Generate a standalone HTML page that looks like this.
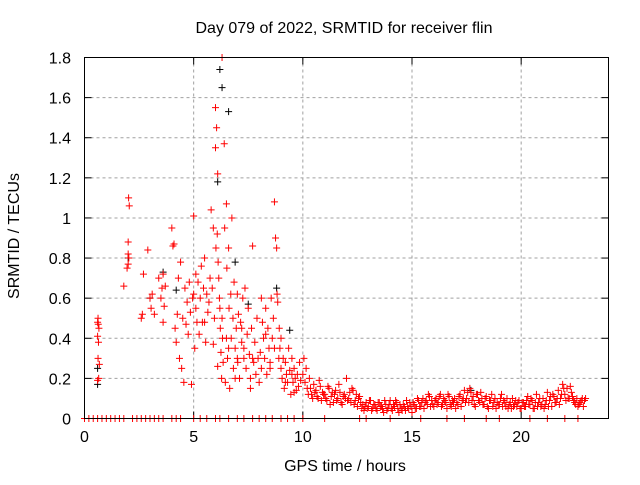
<!DOCTYPE html>
<html><head><meta charset="utf-8"><style>
body{margin:0;background:#fff}
text{font-family:"Liberation Sans",sans-serif;font-size:16px;fill:#000}
</style></head><body>
<svg id="chart" width="640" height="480">
<text x="344" y="33" text-anchor="middle">Day 079 of 2022, SRMTID for receiver flin</text>
<text x="345" y="471" text-anchor="middle">GPS time / hours</text>
<text transform="translate(19,236) rotate(-90)" text-anchor="middle">SRMTID / TECUs</text>
<g id="grid"></g><g id="ticks"></g><g id="marks"></g>
<rect x="84.5" y="57.5" width="524" height="361" fill="none" stroke="#000"/>
</svg>
<script>
const xTicks=[0,5,10,15,20];
const yTicks=[0,0.2,0.4,0.6,0.8,1,1.2,1.4,1.6,1.8];
const yLabels=["0","0.2","0.4","0.6","0.8","1","1.2","1.4","1.6","1.8"];
const mornX=[0.6,0.62,0.64,0.66,0.6,0.62,0.65,0.68,0.6,0.63,
1.8,1.95,2,2,2.02,2.05,2,2.03,2.6,2.65,
2.7,2.9,3,3.05,3.1,3.2,3.4,3.5,3.55,3.6,
3.6,3.7,3.65,4,4.05,4.1,4.15,4.2,4.25,4.3,
4.35,4.4,4.45,4.5,4.55,4.6,4.65,4.7,4.75,4.8,
4.85,4.9,4.95,5,5,5.05,5.1,5.1,5.15,5.2,
5.25,5.3,5.35,5.4,5.45,5.5,5.55,5.6,5.65,5.7,
5.75,5.8,5.85,5.9,5.95,6,6,6.02,6.05,6.08,
6.1,6.12,6.15,6.18,6.2,6.22,6.25,6.28,6.3,6.32,
6.35,6.4,6.42,6.45,6.5,6.52,6.55,6.6,6.62,6.65,
6.7,6.72,6.75,6.8,6.82,6.85,6.9,6.95,7,7.02,
7.05,7.1,7.15,7.2,7.25,7.3,7.35,7.4,7.45,7.5,
7.55,7.6,7.65,7.7,7.75,7.8,7.85,7.9,7.95,8,
8.05,8.1,8.15,8.2,8.25,8.3,8.35,8.4,8.45,8.5,
8.55,8.6,8.65,8.7,8.75,8.8,8.82,8.85,8.9,8.92,
8.95,9,9.05,9.1,9.15,9.2,9.25,9.3,9.35,9.4,
9.45,9.5,9.55,9.6,9.65,9.7,9.75,9.8,9.85,9.9,
6.1,6.3,6.5,6.9,7.3,7.7,8.1,8.5,9.0,9.5,
5.5,5.9,6.6,7.0,7.2,7.6,8.3,8.7,9.2,9.6];
const mornY=[0.19,0.3,0.38,0.45,0.48,0.5,0.2,0.27,0.41,0.47,
0.66,0.75,0.77,0.82,1.1,1.06,0.88,0.8,0.5,0.52,
0.72,0.84,0.6,0.55,0.62,0.52,0.7,0.6,0.65,0.72,
0.48,0.66,0.56,0.95,0.86,0.87,0.45,0.38,0.52,0.7,
0.3,0.78,0.25,0.5,0.18,0.65,0.47,0.58,0.42,0.68,
0.53,0.17,0.6,1.01,0.62,0.35,0.55,0.72,0.48,0.68,
0.42,0.6,0.76,0.48,0.65,0.8,0.38,0.62,0.53,0.58,
0.7,1.04,0.65,0.95,0.5,1.55,1.35,0.85,1.45,0.92,
1.22,0.78,0.7,0.6,0.55,0.45,0.33,0.2,1.8,0.4,
0.28,1.37,0.95,0.18,1.07,0.75,0.3,0.85,0.55,0.15,
0.62,0.4,1.0,0.5,0.25,0.68,0.35,0.45,0.62,0.28,
0.52,0.2,0.48,0.38,0.6,0.3,0.65,0.25,0.42,0.55,
0.32,0.2,0.45,0.86,0.28,0.38,0.22,0.5,0.3,0.18,
0.33,0.25,0.48,0.4,0.3,0.55,0.22,0.45,0.35,0.28,
0.6,0.4,0.5,1.08,0.9,0.85,0.62,0.58,0.3,0.45,
0.35,0.25,0.2,0.3,0.15,0.28,0.22,0.18,0.35,0.24,
0.12,0.3,0.18,0.25,0.2,0.14,0.22,0.16,0.28,0.19,
0.26,0.5,0.4,0.2,0.35,0.3,0.6,0.25,0.4,0.22,
0.48,0.37,0.35,0.3,0.45,0.15,0.42,0.35,0.18,0.13];
const tailX=[10.0,10.1,10.2,10.3,10.4,10.5,10.6,10.7,10.8,10.9,
11.0,11.1,11.2,11.3,11.4,11.5,11.6,11.7,11.8,11.9,
12.0,12.1,12.2,12.3,12.4,12.5,12.6,12.7,12.8,12.9,
13.0,13.1,13.2,13.3,13.4,13.5,13.6,13.7,13.8,13.9,
14.0,14.1,14.2,14.3,14.4,14.5,14.6,14.7,14.8,14.9,
15.0,15.1,15.2,15.3,15.4,15.5,15.6,15.7,15.8,15.9,
16.0,16.1,16.2,16.3,16.4,16.5,16.6,16.7,16.8,16.9,
17.0,17.1,17.2,17.3,17.4,17.5,17.6,17.7,17.8,17.9,
18.0,18.1,18.2,18.3,18.4,18.5,18.6,18.7,18.8,18.9,
19.0,19.1,19.2,19.3,19.4,19.5,19.6,19.7,19.8,19.9,
20.0,20.1,20.2,20.3,20.4,20.5,20.6,20.7,20.8,20.9,
21.0,21.1,21.2,21.3,21.4,21.5,21.6,21.7,21.8,21.9,
22.0,22.1,22.2,22.3,22.4,22.5,22.6,22.7,22.8,22.9];
const tailY1=[.22,.18,.15,.2,.12,.17,.14,.1,.16,.13,
.12,.09,.15,.11,.08,.14,.1,.13,.07,.12,
.2,.1,.08,.14,.09,.06,.11,.05,.04,.08,
.06,.09,.05,.07,.04,.08,.06,.03,.07,.05,
.09,.04,.06,.08,.03,.05,.07,.04,.06,.08,
.03,.07,.05,.09,.06,.1,.08,.07,.11,.09,
.06,.1,.08,.12,.07,.09,.05,.11,.06,.08,
.05,.07,.12,.09,.14,.1,.08,.13,.11,.06,
.12,.08,.1,.07,.11,.05,.09,.06,.1,.08,
.07,.12,.09,.06,.05,.08,.1,.07,.06,.09,
.05,.08,.06,.11,.07,.09,.05,.12,.08,.06,
.1,.07,.13,.09,.06,.11,.08,.14,.1,.17,
.12,.15,.1,.13,.09,.07,.06,.08,.1,.09];
const tailY2=[.3,.25,.12,.15,.1,.13,.11,.19,.09,.12,
.1,.16,.07,.13,.12,.09,.17,.08,.11,.1,
.09,.13,.15,.07,.12,.1,.08,.07,.06,.05,
.09,.04,.07,.05,.08,.06,.05,.09,.04,.07,
.05,.07,.09,.05,.07,.04,.06,.09,.05,.06,
.08,.05,.1,.06,.08,.05,.09,.12,.06,.07,
.09,.07,.11,.06,.1,.08,.12,.07,.09,.1,
.08,.11,.06,.1,.08,.13,.15,.09,.07,.12,
.09,.13,.07,.1,.06,.09,.12,.08,.05,.07,
.1,.06,.08,.1,.07,.05,.06,.09,.08,.05,
.08,.06,.09,.07,.1,.05,.08,.06,.1,.07,
.05,.09,.06,.11,.12,.08,.1,.07,.12,.15,
.09,.1,.16,.11,.08,.1,.07,.09,.06,.1];
const blackX=[0.6,0.6,2,3,3.6,4.2,6.1,6.2,6.3,6.6,6.9,7.5,8.8,9.4,17.7];
const blackY=[0.25,0.17,0.8,0.6,0.73,0.64,1.18,1.74,1.65,1.53,0.78,0.57,0.65,0.44,0.14];
const zeroX=[0,0.2,0.4,0.6,0.8,1,1.2,1.4,1.6,1.8,2.2,2.4,2.6,2.8,3,3.2,3.4,3.6,4,4.2,4.4,5,5.3,5.6,6,6.2,6.6,7,7.3,7.7,8,8.3,8.6,9,9.3,9.6,10,11,12.6,12.9,14,15.4,16.6,17.4,18.4,19,20.4,21.2,22,22.6];
const NS='http://www.w3.org/2000/svg';
function sx(v){return 84.5+v*(524/24);}
function sy(v){return 418.5-v*(361/1.8);}
function mk(tag,a,parent){const e=document.createElementNS(NS,tag);for(const k in a)e.setAttribute(k,a[k]);parent.appendChild(e);return e;}
const grid=document.getElementById('grid'),ticks=document.getElementById('ticks'),marks=document.getElementById('marks');
xTicks.forEach(t=>{const x=sx(t);
 const g=mk('line',{x1:x,x2:x,y1:57.5,y2:418.5,stroke:'#a0a0a0','stroke-dasharray':'3,3'},grid);
 
 
 mk('line',{x1:x,x2:x,y1:418.5,y2:411.5,stroke:'#000'},ticks);
 mk('line',{x1:x,x2:x,y1:57.5,y2:64.5,stroke:'#000'},ticks);
 const l=mk('text',{x:x,y:442,'text-anchor':'middle'},ticks);l.textContent=t;
 
 
});
yTicks.forEach((t,i)=>{const y=sy(t);
 const g=mk('line',{x1:84.5,x2:608.5,y1:y,y2:y,stroke:'#a0a0a0','stroke-dasharray':'3,3'},grid);
 
 
 mk('line',{x1:84.5,x2:91.5,y1:y,y2:y,stroke:'#000'},ticks);
 mk('line',{x1:608.5,x2:601.5,y1:y,y2:y,stroke:'#000'},ticks);
 const l=mk('text',{x:71,y:y+6,'text-anchor':'end'},ticks);l.textContent=yLabels[i];
 
 
});
function plus(x,y,c,name){const p=mk('path',{d:`M${x-3.5},${y}h7M${x},${y-3.5}v7`,stroke:c,'stroke-width':1},marks);
 
 }
blackX.forEach((v,i)=>plus(sx(v),sy(blackY[i]),'#000','black-point'));
mornX.forEach((v,i)=>plus(sx(v),sy(mornY[i]),'#f00','red-point'));
tailX.forEach((v,i)=>plus(sx(v),sy(tailY1[i]),'#f00','red-point'));
tailX.forEach((v,i)=>plus(sx(v+0.05),sy(tailY2[i]),'#f00','red-point'));
zeroX.forEach(v=>plus(sx(v),sy(0),'#f00','zero-point'));
</script>
</body></html>
